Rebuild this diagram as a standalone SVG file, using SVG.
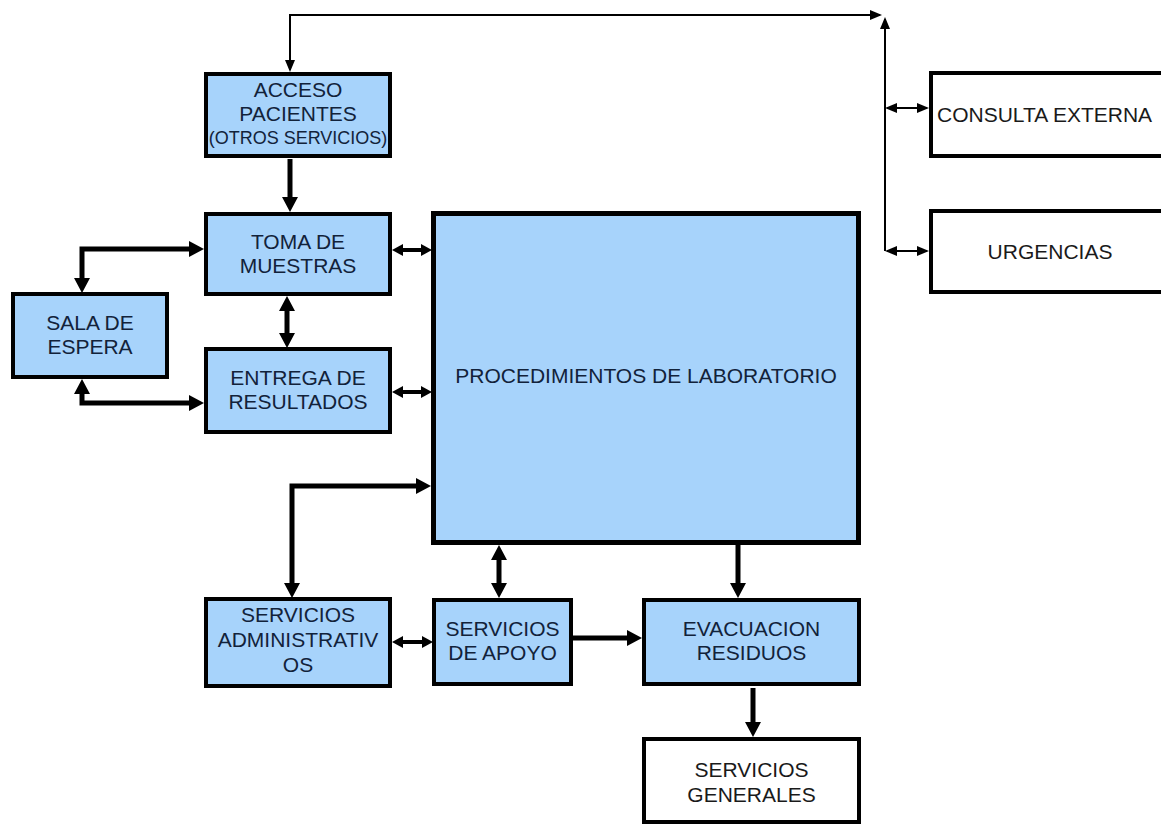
<svg xmlns="http://www.w3.org/2000/svg" width="1161" height="825" viewBox="0 0 1161 825">
  <style>
    .box { fill: #a7d3fb; stroke: #000; stroke-width: 4; }
    .wbox { fill: #fff; stroke: #000; stroke-width: 4; }
    .big { stroke-width: 5; }
    text { font-family: "Liberation Sans", Arial, sans-serif; font-size: 21px; text-anchor: middle; fill: #12223a; }
    .dark { fill: #1a1a1a; }
    .small { font-size: 18px; }
    .thick { fill: none; stroke: #000; stroke-width: 5; marker-start: url(#hd); marker-end: url(#hd); }
    .thick1 { fill: none; stroke: #000; stroke-width: 5; marker-end: url(#hd); }
    .med { fill: none; stroke: #000; stroke-width: 4; marker-start: url(#hm); marker-end: url(#hm); }
    .thin { fill: none; stroke: #000; stroke-width: 2; marker-start: url(#ht); marker-end: url(#ht); }
    .thin1 { fill: none; stroke: #000; stroke-width: 2; marker-end: url(#ht); }
  </style>
  <defs>
    <marker id="hd" markerUnits="userSpaceOnUse" markerWidth="16" markerHeight="16" refX="9" refY="8" orient="auto-start-reverse">
      <path d="M0,0 L15,8 L0,16 z" fill="#000"/>
    </marker>
    <marker id="hm" markerUnits="userSpaceOnUse" markerWidth="12" markerHeight="12" refX="7" refY="6" orient="auto-start-reverse">
      <path d="M0,0 L11,6 L0,12 z" fill="#000"/>
    </marker>
    <marker id="ht" markerUnits="userSpaceOnUse" markerWidth="13" markerHeight="11" refX="10" refY="5" orient="auto-start-reverse">
      <path d="M0,0 L12,5 L0,10 z" fill="#000"/>
    </marker>
  </defs>
  <rect width="1161" height="825" fill="#fff"/>

  <!-- connectors -->
  <g id="connectors">
    <path class="thin" d="M880,15 H290 V70"/>
    <path class="thin1" d="M885,251 V19"/>
    <path class="thin" d="M887,108 H927"/>
    <path class="thin" d="M887,251 H927"/>
    <path class="thick1" d="M290,159 V206"/>
    <path class="thick" d="M198,249 H82 V287"/>
    <path class="thick" d="M287,302 V342"/>
    <path class="thick" d="M82,385 V403 H198"/>
    <path class="med" d="M396,250 H428"/>
    <path class="med" d="M396,392 H428"/>
    <path class="thick" d="M425,486 H292 V592"/>
    <path class="thick" d="M499,551 V592"/>
    <path class="thick1" d="M738,545 V592"/>
    <path class="med" d="M396,642 H429"/>
    <path class="thick1" d="M573,638 H636"/>
    <path class="thick1" d="M753,688 V731"/>
  </g>

  <g id="acceso">
    <rect class="box" x="206" y="74" width="184" height="82"/>
    <text x="298" y="97">ACCESO</text>
    <text x="298" y="121">PACIENTES</text>
    <text class="small" x="298" y="144">(OTROS SERVICIOS)</text>
  </g>
  <g id="toma">
    <rect class="box" x="206" y="214" width="184" height="80"/>
    <text x="298" y="249">TOMA DE</text>
    <text x="298" y="273">MUESTRAS</text>
  </g>
  <g id="sala">
    <rect class="box" x="13" y="294" width="154" height="83"/>
    <text x="90" y="330">SALA DE</text>
    <text x="90" y="354">ESPERA</text>
  </g>
  <g id="entrega">
    <rect class="box" x="206" y="349" width="184" height="83"/>
    <text x="298" y="385">ENTREGA DE</text>
    <text x="298" y="409">RESULTADOS</text>
  </g>
  <g id="procedimientos">
    <rect class="box big" x="433.5" y="213.5" width="425" height="329"/>
    <text x="646" y="383">PROCEDIMIENTOS DE LABORATORIO</text>
  </g>
  <g id="administrativos">
    <rect class="box" x="206" y="599" width="184" height="87"/>
    <text x="298" y="622">SERVICIOS</text>
    <text x="298" y="647">ADMINISTRATIV</text>
    <text x="298" y="672">OS</text>
  </g>
  <g id="apoyo">
    <rect class="box" x="434" y="600" width="137" height="84"/>
    <text x="502.5" y="636">SERVICIOS</text>
    <text x="502.5" y="660">DE APOYO</text>
  </g>
  <g id="evacuacion">
    <rect class="box" x="644" y="600" width="215" height="84"/>
    <text x="751.5" y="636">EVACUACION</text>
    <text x="751.5" y="660">RESIDUOS</text>
  </g>
  <g id="generales">
    <rect class="wbox" x="644" y="739" width="215" height="83"/>
    <text class="dark" x="751.5" y="777">SERVICIOS</text>
    <text class="dark" x="751.5" y="802">GENERALES</text>
  </g>
  <g id="consulta">
    <rect class="wbox" x="931" y="73" width="240" height="83"/>
    <text class="dark" x="937" y="122" style="text-anchor:start">CONSULTA EXTERNA</text>
  </g>
  <g id="urgencias">
    <rect class="wbox" x="931" y="211" width="240" height="81"/>
    <text class="dark" x="1050" y="259">URGENCIAS</text>
  </g>
</svg>
